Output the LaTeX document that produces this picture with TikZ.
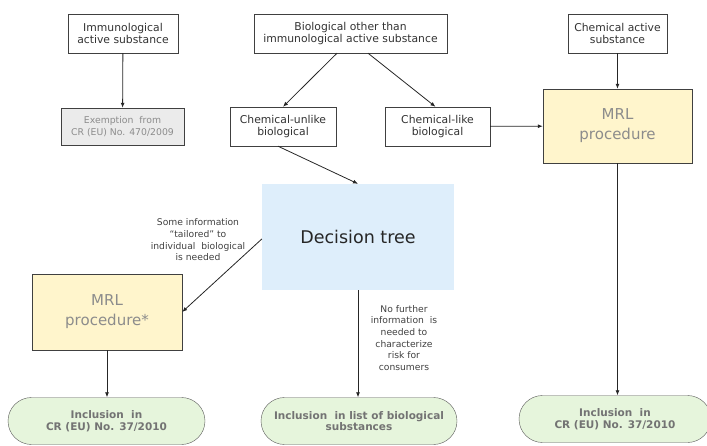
\documentclass[tikz,border=0pt]{standalone}
\usepackage{fontspec}
\setmainfont{DejaVu Sans}
\usepackage{tikz}
\usetikzlibrary{arrows.meta}

\definecolor{mrlfill}{HTML}{FFF5CC}
\definecolor{treefill}{HTML}{DEEEFB}
\definecolor{inclfill}{HTML}{E6F5DC}
\definecolor{exfill}{HTML}{EBEBEB}

\begin{document}
\begin{tikzpicture}[x=1pt,y=-1pt,
    box/.style={draw=black!75, fill=white, inner sep=0pt, align=center, text=black!80,
        font=\fontsize{10.8}{12.7}\selectfont},
    mrlbox/.style={box, fill=mrlfill, text=black!45, font=\fontsize{15}{20}\selectfont},
    inclbox/.style={draw=black!65, fill=inclfill, inner sep=0pt, align=center, text=black!55,
        rounded corners=23.5pt, minimum height=47pt, font=\fontsize{10.5}{11.8}\selectfont\bfseries},
    note/.style={align=center, inner sep=0pt, text=black!75, font=\fontsize{9.2}{11.7}\selectfont},
    arr/.style={-{Latex[length=5pt,width=4pt]}, black!85, line width=0.8pt}]

    \useasboundingbox (0,0) rectangle (707,446);

    % top row
    \node[box, minimum width=110pt, minimum height=39pt] (immuno) at (123,33.5)
        {Immunological\\active substance};
    \node[box, minimum width=193pt, minimum height=39pt] (bio) at (350.5,33.5)
        {Biological other than\\immunological active substance};
    \node[box, minimum width=99pt, minimum height=39pt] (chem) at (617.5,33.5)
        {Chemical active\\substance};

    % second row
    \node[box, fill=exfill, text=black!45, font=\fontsize{9.3}{12.5}\selectfont,
        minimum width=123pt, minimum height=37pt] (exempt) at (122.5,126.5)
        {Exemption\ \ from\\CR (EU) No. 470/2009};
    \node[box, minimum width=106pt, minimum height=39pt] (unlike) at (283,126.5)
        {Chemical-unlike\\biological};
    \node[box, minimum width=105pt, minimum height=39pt] (like) at (437.5,126.5)
        {Chemical-like\\biological};
    \node[mrlbox, minimum width=149pt, minimum height=74pt] (mrl) at (617.5,126)
        {MRL\\procedure};

    % decision tree and MRL*
    \node[fill=treefill, inner sep=0pt, text=black!85, font=\fontsize{17.5}{20}\selectfont,
        minimum width=192pt, minimum height=106pt] (tree) at (358,237) {Decision tree};
    \node[mrlbox, minimum width=150pt, minimum height=76pt] (mrlstar) at (107,312)
        {MRL\\procedure*};

    \node[note] (tailor) at (198,240)
        {Some information\\``tailored'' to\\individual\ \ biological\\is needed};
    \node[note] (nofurther) at (404,338)
        {No further\\information\ \ is\\needed to\\characterize\\risk for\\consumers};

    % bottom row
    \node[inclbox, minimum width=197pt] (inclL) at (106.5,421)
        {Inclusion\ \ in\\CR (EU) No. 37/2010};
    \node[inclbox, minimum width=196pt] (inclM) at (359,421)
        {Inclusion\ \ in list of biological\\substances};
    \node[inclbox, minimum width=192pt] (inclR) at (615,419)
        {Inclusion\ \ in\\CR (EU) No. 37/2010};

    % connectors
    \draw[arr] (immuno) -- (exempt);
    \draw[arr] ([xshift=-13.5pt]bio.south) -- (unlike.north);
    \draw[arr] ([xshift=17.5pt]bio.south) -- ([xshift=-2pt]like.north);
    \draw[arr] (chem) -- (mrl);
    \draw[arr] (like) -- (mrl);
    \draw[arr] ([xshift=-5pt]unlike.south) -- (tree.north);
    \draw[arr] ([yshift=-2pt]tree.west) -- (mrlstar.east);
    \draw[arr] (tree.south) -- (tree.south |- inclM.north);
    \draw[arr] (mrlstar) -- (mrlstar.south |- inclL.north);
    \draw[arr] (mrl.south) -- (mrl.south |- inclR.north);
\end{tikzpicture}
\end{document}
